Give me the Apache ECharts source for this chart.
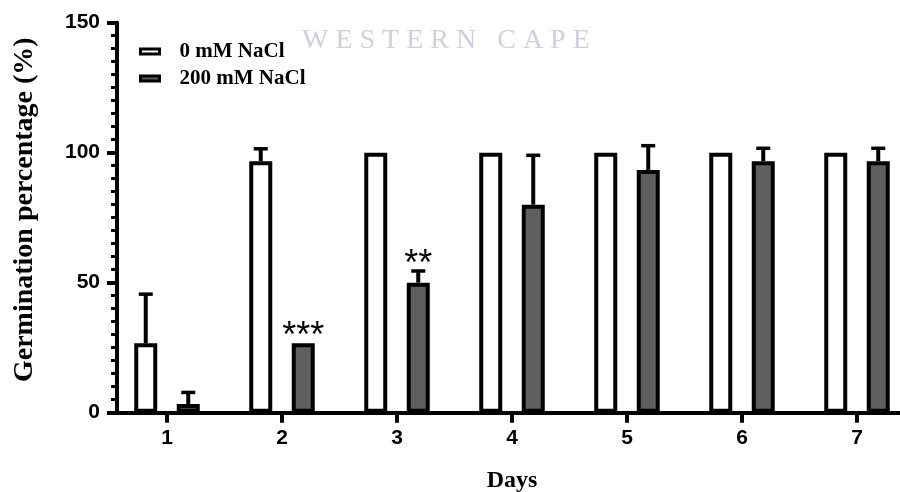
<!DOCTYPE html>
<html>
<head>
<meta charset="utf-8">
<script src="https://cdn.jsdelivr.net/npm/echarts@6/dist/echarts.min.js"></script>
<style>html,body{margin:0;padding:0;background:#fff}#c{width:900px;height:492px}</style>
</head>
<body>
<div id="c"></div>
<script>
// ---- data ----
const days = ['1', '2', '3', '4', '5', '6', '7'];
const controlName = '0 mM NaCl';
const saltName = '200 mM NaCl';
const control = [26.7, 96.7, 100, 100, 100, 100, 100];
const controlErrTop = [45.6, 101.5, null, null, null, null, null];
const salt = [3.3, 26.7, 50, 80, 93.3, 96.7, 96.7];
const saltErrTop = [7.8, null, 54.5, 99, 102.7, 101.7, 101.7];
const saltSig = ['', '***', '**', '', '', '', ''];
const yMin = 0, yMax = 150, yInterval = 50;

// ---- style ----
const BAR_W = 23;
const BAR_GAP = 19.5 / 23;
const OFF = BAR_W * (1 + BAR_GAP) / 2;

function errData(vals, tops) {
  const out = [];
  vals.forEach((v, i) => { if (tops[i] != null) out.push([i, v, tops[i]]); });
  return out;
}
function errRender(offset) {
  return function (params, api) {
    const i = api.value(0);
    const base = api.coord([i, api.value(1)]);
    const top = api.coord([i, api.value(2)]);
    const x = base[0] + offset;
    return {
      type: 'group',
      children: [
        { type: 'line', shape: { x1: x, y1: base[1], x2: x, y2: top[1] }, style: { stroke: '#000', lineWidth: 4 } },
        { type: 'line', shape: { x1: x - 7, y1: top[1], x2: x + 7, y2: top[1] }, style: { stroke: '#000', lineWidth: 3.5 } }
      ]
    };
  };
}
const sigData = [];
saltSig.forEach((s, i) => {
  if (s) sigData.push([i, Math.max(salt[i], saltErrTop[i] == null ? 0 : saltErrTop[i])]);
});

const chart = echarts.init(document.getElementById('c'), null, { renderer: 'canvas' });
chart.setOption({
  animation: false,
  backgroundColor: '#fff',
  graphic: [
    { type: 'text', x: 318, y: -21, z: 0,
      style: { text: 'U N I V E R S I T Y   o f   t h e', fontFamily: 'Liberation Serif', fontSize: 28, fill: '#cfd0dc' } },
    { type: 'text', x: 302, y: 27, z: 0,
      style: { text: 'W E S T E R N   C A P E', fontFamily: 'Liberation Serif', fontSize: 28, fill: '#cfd0dc' } }
  ],
  grid: { left: 109.5, width: 805, top: 22.7, height: 390, outerBoundsMode: 'none', containLabel: false },
  legend: {
    orient: 'vertical', left: 134, top: 36, itemWidth: 19, itemHeight: 5, itemGap: 6,
    icon: 'rect',
    itemStyle: { borderWidth: 3, borderColor: '#000' },
    textStyle: { fontFamily: 'Liberation Serif', fontWeight: 'bold', fontSize: 21, color: '#000', padding: [0, 0, 0, 15] },
    data: [controlName, saltName]
  },
  xAxis: {
    type: 'category', data: days, boundaryGap: true,
    name: 'Days', nameLocation: 'middle', nameGap: 56,
    nameTextStyle: { fontFamily: 'Liberation Serif', fontWeight: 'bold', fontSize: 24, color: '#000' },
    axisLine: { show: true, lineStyle: { color: '#000', width: 4 } },
    axisTick: { show: true, alignWithLabel: true, length: 10, lineStyle: { color: '#000', width: 4 } },
    axisLabel: { margin: 15, fontFamily: 'Liberation Sans', fontWeight: 'bold', fontSize: 21, color: '#000' },
    splitLine: { show: false }
  },
  yAxis: {
    type: 'value', min: yMin, max: yMax, interval: yInterval, offset: -7.5,
    name: 'Germination percentage (%)', nameLocation: 'middle', nameGap: 78, nameRotate: 90,
    nameTextStyle: { fontFamily: 'Liberation Serif', fontWeight: 'bold', fontSize: 28, color: '#000', padding: [0, 0, 0, 16] },
    axisLine: { show: true, lineStyle: { color: '#000', width: 4 } },
    axisTick: { show: true, length: 10, lineStyle: { color: '#000', width: 4 } },
    minorTick: { show: true, splitNumber: 10, length: 6, lineStyle: { color: '#000', width: 3 } },
    axisLabel: { margin: 17, fontFamily: 'Liberation Sans', fontWeight: 'bold', fontSize: 21, color: '#000' },
    splitLine: { show: false }
  },
  series: [
    { name: controlName, type: 'bar', data: control, barWidth: BAR_W, barGap: (BAR_GAP * 100) + '%',
      itemStyle: { color: '#ffffff', borderColor: '#000', borderWidth: 4 }, z: 2 },
    { name: saltName, type: 'bar', data: salt, barWidth: BAR_W,
      itemStyle: { color: '#5f5f5f', borderColor: '#000', borderWidth: 4 }, z: 2 },
    { type: 'custom', name: 'err0', coordinateSystem: 'cartesian2d', data: errData(control, controlErrTop),
      encode: { x: 0, y: [1, 2] }, renderItem: errRender(-OFF), z: 3 },
    { type: 'custom', name: 'err1', coordinateSystem: 'cartesian2d', data: errData(salt, saltErrTop),
      encode: { x: 0, y: [1, 2] }, renderItem: errRender(OFF), z: 3 },
    { type: 'custom', name: 'sig', coordinateSystem: 'cartesian2d', data: sigData,
      encode: { x: 0, y: 1 }, z: 4,
      renderItem: function (params, api) {
        const i = api.value(0);
        const p = api.coord([i, api.value(1)]);
        return { type: 'text', x: p[0] + OFF, y: p[1] - 6,
          style: { text: saltSig[i], fontFamily: 'Liberation Sans', fontSize: 36, fill: '#000', align: 'center', verticalAlign: 'middle' } };
      } }
  ]
});
</script>
</body>
</html>
